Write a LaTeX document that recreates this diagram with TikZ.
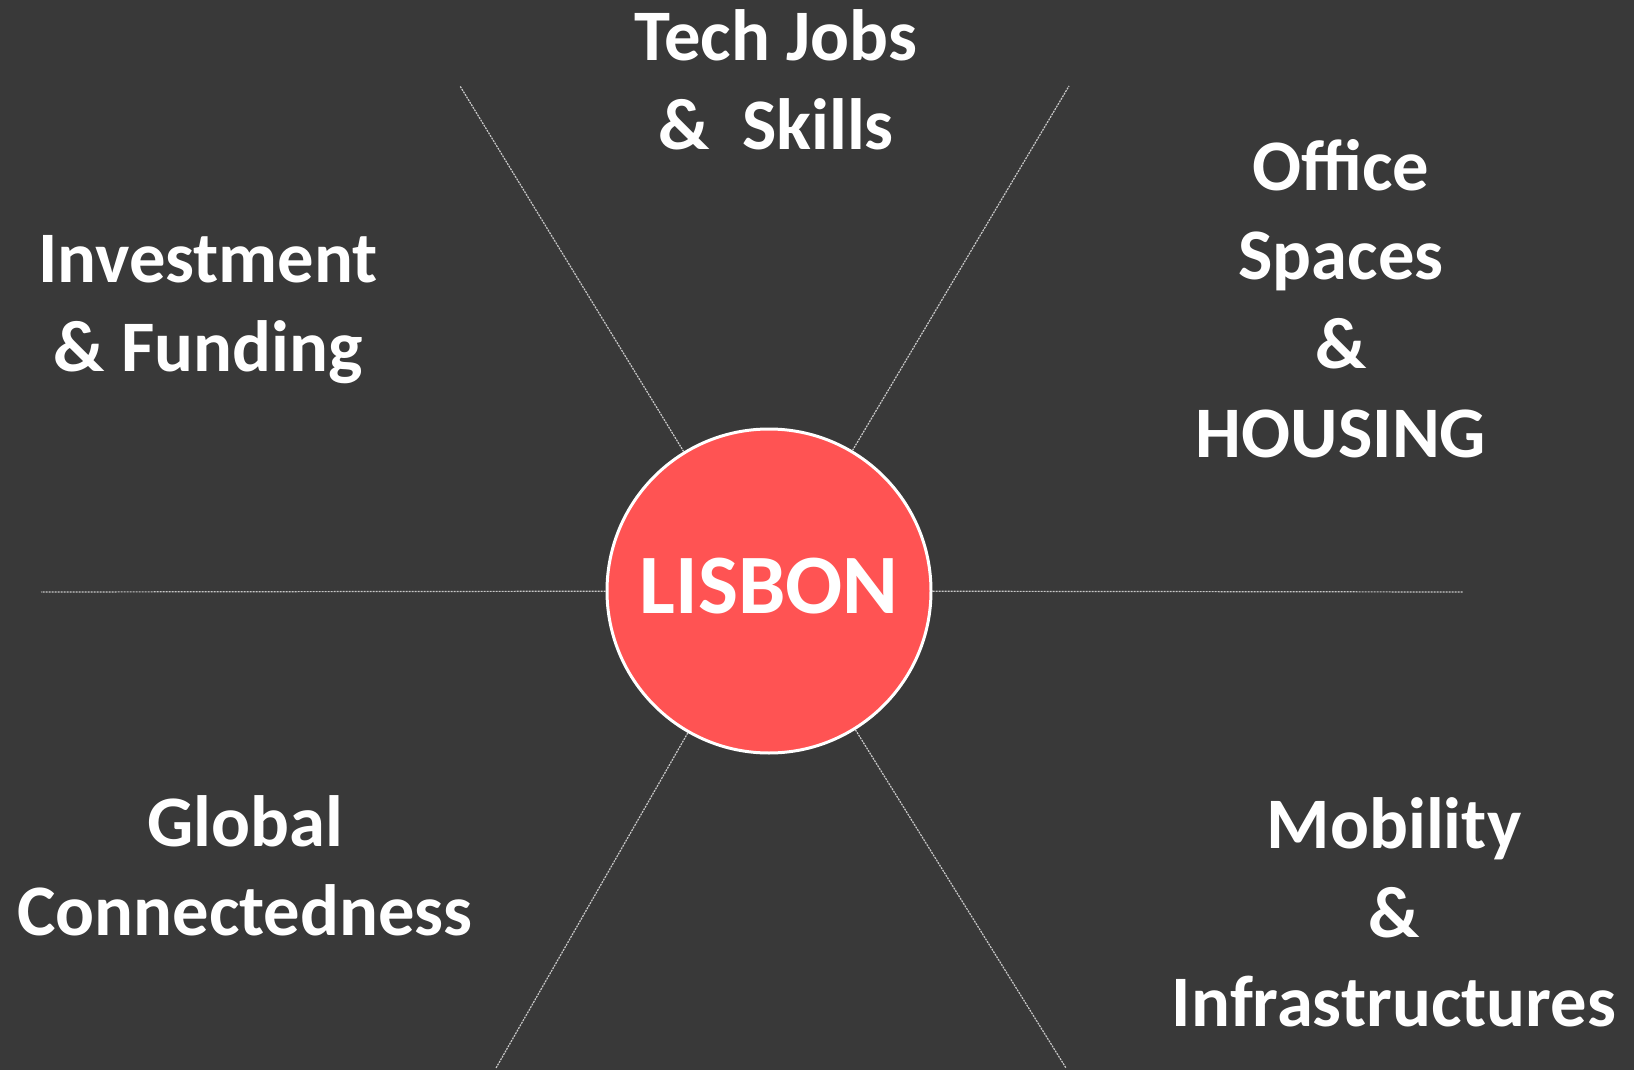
\documentclass[tikz,border=0pt]{standalone}
\usepackage{fontspec}
\setmainfont{Carlito}
\definecolor{bgdark}{HTML}{393939}
\definecolor{lisbonred}{HTML}{FF5353}
\definecolor{spoke}{HTML}{C8C8C8}
\tikzset{
  topic/.style={text=white, align=center, font=\fontsize{36.3}{44.5}\selectfont\bfseries},
  spokeline/.style={spoke, line width=0.6pt, dash pattern=on 1pt off 0.5pt}
}

\begin{document}
\begin{tikzpicture}[x=0.5pt, y=-0.5pt]

        \fill[bgdark] (0,0) rectangle (1634,1070);
        \useasboundingbox (0,0) rectangle (1634,1070);

        \coordinate (C) at (769,591);
        \coordinate (TL) at (460,86);
        \coordinate (TR) at (1069,86);
        \coordinate (L) at (41,592);
        \coordinate (R) at (1463,592);
        \coordinate (BL) at (496,1068);
        \coordinate (BR) at (1066,1068);

        \node[circle, draw=white, line width=1.5pt, fill=lisbonred, minimum size=162pt,
              text=white, font=\fontsize{42.3}{42.3}\selectfont\bfseries] (lisbon) at (C)
              {\raisebox{5pt}{LISBON}};

        \draw[spokeline] (lisbon) -- (TL);
        \draw[spokeline] (lisbon) -- (TR);
        \draw[spokeline] (lisbon) -- (L);
        \draw[spokeline] (lisbon) -- (R);
        \draw[spokeline] (lisbon) -- (BL);
        \draw[spokeline] (lisbon) -- (BR);

        \node[topic] (tech) at (776,80) {Tech Jobs\\\&~ Skills};
        \node[topic] (invest) at (208,310) {Investment\\\& Funding};
        \node[topic] (office) at (1341,299) {Office\\Spaces\\\&\\HOUSING};
        \node[topic] (global) at (245,866) {Global\\Connectedness};
        \node[topic] (mobility) at (1394,912) {Mobility\\\&\\Infrastructures};
    \end{tikzpicture}
\end{document}
